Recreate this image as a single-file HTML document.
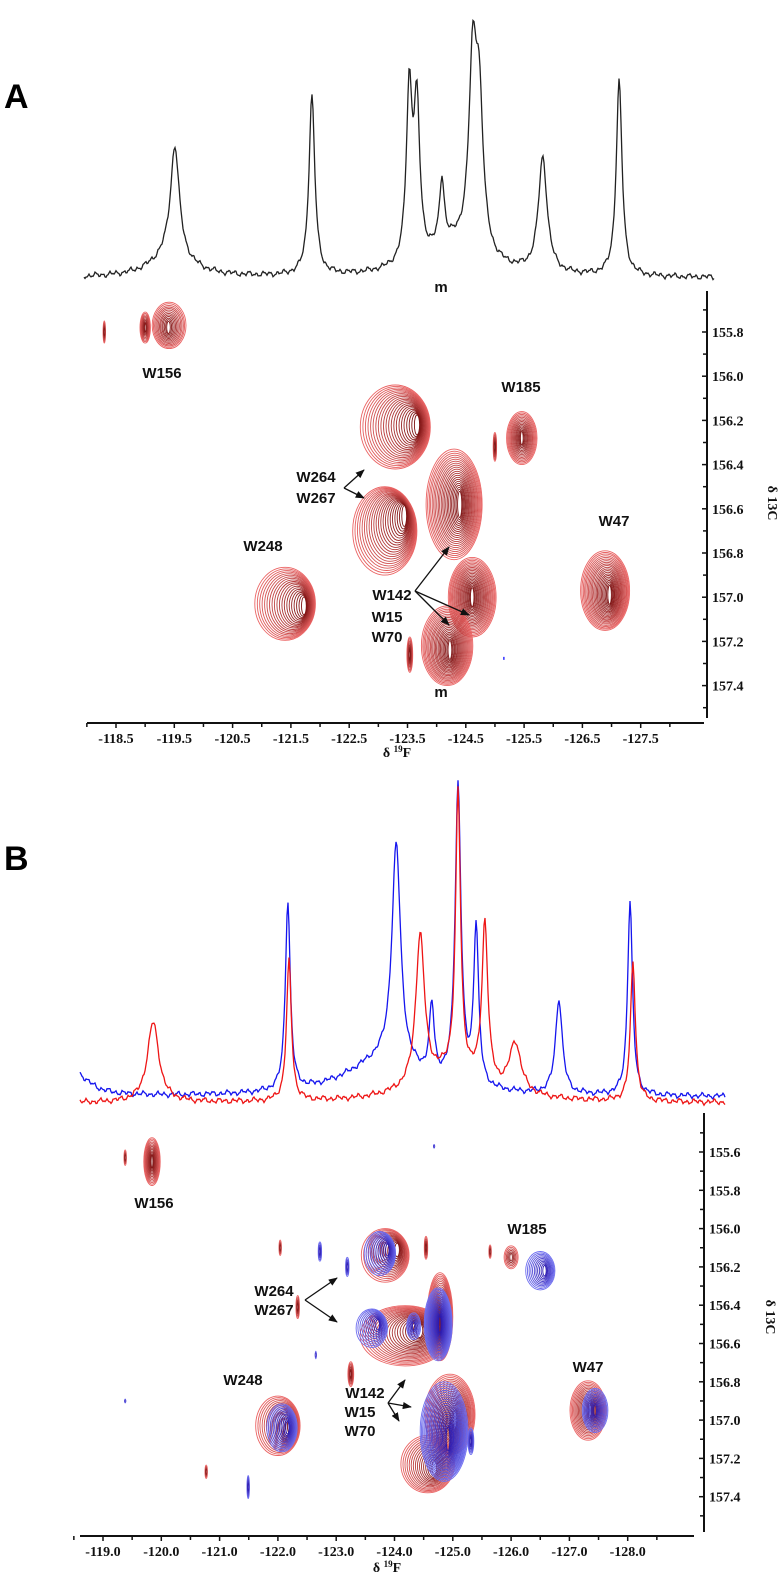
<!DOCTYPE html>
<html><head><meta charset="utf-8"><style>
html,body{margin:0;padding:0;background:#fff;}
svg{display:block;}
.tl{font-family:"Liberation Serif",serif;font-weight:bold;font-size:14px;fill:#111;}
.pl{font-family:"Liberation Sans",sans-serif;font-weight:bold;font-size:15px;fill:#111;}
</style></head><body>
<svg id="fig" width="781" height="1576" viewBox="0 0 781 1576" xmlns="http://www.w3.org/2000/svg">
<defs>
<marker id="ah" viewBox="0 0 10 10" refX="9" refY="5" markerWidth="7" markerHeight="7" orient="auto"><path d="M0,1 L10,5 L0,9 z" fill="#111"/></marker>
</defs>
<text x="4" y="108" font-family="Liberation Sans,sans-serif" font-weight="bold" font-size="34">A</text>
<text x="4" y="870" font-family="Liberation Sans,sans-serif" font-weight="bold" font-size="34">B</text>
<g id="gA"></g><g id="gB"></g>
</svg>
<script>
// ---------- Panel A data ----------
const specA_ppm = [-119.51,-121.86,-123.53,-123.66,-124.09,-124.62,-124.73,-125.82,-127.13,-119.45,-124.3];
const specA_h   = [110,180,170,150,65,180,140,115,195,22,30];
const specA_w   = [0.09,0.06,0.06,0.06,0.05,0.08,0.08,0.09,0.06,0.4,0.6];

const blobA_x  = [-119.41,-119.0,-118.3,-123.29,-123.11,-125.46,-125.0,-124.30,-124.61,-124.18,-123.54,-121.40,-126.89];
const blobA_y  = [155.77,155.78,155.8,156.23,156.70,156.28,156.32,156.58,157.0,157.22,157.26,157.03,156.97];
const blobA_rx = [0.29,0.09,0.02,0.6,0.55,0.26,0.03,0.48,0.41,0.44,0.05,0.52,0.42];
const blobA_ry = [0.105,0.07,0.05,0.19,0.2,0.12,0.065,0.25,0.18,0.18,0.08,0.165,0.18];
const blobA_cx = [-119.40,-119.0,-118.3,-123.68,-123.46,-125.46,-125.0,-124.40,-124.61,-124.23,-123.54,-121.74,-126.97];
const blobA_cy = [155.78,155.78,155.8,156.22,156.63,156.28,156.32,156.58,157.0,157.24,157.26,157.04,156.99];
const blobA_s  = ["r","r","r","r","r","r","r","r","r","r","r","r","r"];

const xTicksA = [-118.5,-119.5,-120.5,-121.5,-122.5,-123.5,-124.5,-125.5,-126.5,-127.5];
const yTicksA = [155.8,156.0,156.2,156.4,156.6,156.8,157.0,157.2,157.4];

// ---------- Panel B data ----------
const specB_blue_ppm = [-122.17,-124.03,-124.64,-125.09,-125.40,-126.82,-128.04,-123.8,-118.5];
const specB_blue_h   = [190,220,70,300,160,95,195,35,25];
const specB_blue_w   = [0.05,0.09,0.05,0.06,0.05,0.07,0.05,0.8,0.3];
const specB_red_ppm  = [-119.86,-122.19,-124.44,-125.09,-125.55,-126.07,-128.09,-125.0];
const specB_red_h    = [80,140,150,280,160,50,140,30];
const specB_red_w    = [0.12,0.05,0.09,0.05,0.06,0.12,0.05,0.7];

const blobB_x  = [-119.84,-119.38,-123.84,-122.04,-124.54,-125.64,-126.0,-124.18,-124.78,-123.25,-122.34,-124.57,-124.95,-122.0,-127.32,-120.77,
                  -123.75,-123.19,-122.72,-126.50,-124.75,-123.61,-124.33,-122.65,-124.85,-125.31,-122.07,-127.44,-121.49,-119.38,-124.68];
const blobB_y  = [155.65,155.63,156.14,156.10,156.10,156.12,156.15,156.56,156.46,156.76,156.41,157.23,156.97,157.03,156.95,157.27,
                  156.13,156.20,156.12,156.22,156.50,156.52,156.51,156.66,157.06,157.11,157.04,156.95,157.35,156.9,155.57];
const blobB_rx = [0.14,0.02,0.41,0.02,0.03,0.02,0.12,0.77,0.22,0.05,0.03,0.46,0.43,0.38,0.31,0.02,
                  0.27,0.03,0.03,0.25,0.24,0.27,0.12,0.01,0.41,0.05,0.26,0.22,0.02,0.01,0.01];
const blobB_ry = [0.125,0.04,0.14,0.04,0.06,0.035,0.06,0.157,0.23,0.065,0.06,0.15,0.21,0.155,0.155,0.035,
                  0.115,0.05,0.05,0.1,0.19,0.1,0.07,0.02,0.26,0.07,0.125,0.115,0.06,0.01,0.01];
const blobB_cx = [-119.84,-119.38,-124.06,-122.04,-124.54,-125.64,-126.0,-124.44,-124.83,-123.25,-122.34,-124.69,-125.04,-122.21,-127.35,-120.77,
                  -123.89,-123.19,-122.72,-126.58,-124.78,-123.72,-124.33,-122.65,-124.92,-125.31,-122.17,-127.44,-121.49,-119.38,-124.68];
const blobB_cy = [155.65,155.63,156.11,156.10,156.10,156.12,156.15,156.53,156.48,156.76,156.41,157.25,157.0,157.03,156.95,157.27,
                  156.11,156.20,156.12,156.22,156.50,156.50,156.51,156.66,157.1,157.11,157.04,156.95,157.35,156.9,155.57];
const blobB_s  = ["r","r","r","r","r","r","r","r","r","r","r","r","r","r","r","r",
                  "b","b","b","b","b","b","b","b","b","b","b","b","b","b","b"];

const xTicksB = [-119.0,-120.0,-121.0,-122.0,-123.0,-124.0,-125.0,-126.0,-127.0,-128.0];
const yTicksB = [155.6,155.8,156.0,156.2,156.4,156.6,156.8,157.0,157.2,157.4];

// ---------- axis functions ----------
const xA = v => 116 + (-118.5 - v) * 58.3;
const yA = v => 332 + (v - 155.8) * 221;
const pA = px => -118.5 - (px - 116) / 58.3;
const xB = v => 103 + (-119.0 - v) * 58.3;
const yB = v => 1152 + (v - 155.6) * 191.5;
const pB = px => -119.0 - (px - 103) / 58.3;

const NS = "http://www.w3.org/2000/svg";
function mk(tag, parent){ const e = document.createElementNS(NS, tag); parent.appendChild(e); return e; }

function spectrum(parent, ppm, h, w, base, x0, x1, pinv, color, name, ph){
  let d = "";
  for (let px = x0; px <= x1; px += 1){
    const v = pinv(px);
    let s = 0;
    for (let i = 0; i < ppm.length; i++){ const u = (v - ppm[i]) / w[i]; s += h[i] / (1 + u*u); }
    const wig = 1.6*Math.sin(px*0.9+ph) + 1.1*Math.sin(px*0.37+ph*2) + 0.8*Math.sin(px*2.1);
    const y = base - s + wig;
    d += (px === x0 ? "M" : "L") + px + "," + y.toFixed(1);
  }
  const p = mk("path", parent);
  p.setAttribute("d", d);
  p.setAttribute("fill", "none");
  p.setAttribute("stroke", color);
  p.setAttribute("stroke-width", "1.3");
  
  
}

function lerp(a,b,t){ return a + (b-a)*t; }
function blobs(parent, X, Y, RX, RY, CX, CY, S, fx, fy, pxPerX, pxPerY, name){
  for (let i = 0; i < X.length; i++){
    const g = mk("g", parent);
    
    
    const rxp = RX[i]*pxPerX, ryp = RY[i]*pxPerY;
    const n = Math.max(2, Math.min(22, Math.round(Math.max(rxp, ryp)/1.8)));
    for (let k = 0; k < n; k++){
      const t = k / n;
      const e = mk("ellipse", g);
      e.setAttribute("cx", lerp(fx(X[i]), fx(CX[i]), t).toFixed(1));
      e.setAttribute("cy", lerp(fy(Y[i]), fy(CY[i]), t).toFixed(1));
      e.setAttribute("rx", Math.max(0.6, rxp*(1 - t*0.97)).toFixed(1));
      e.setAttribute("ry", Math.max(0.8, ryp*(1 - t*0.8)).toFixed(1));
      let col;
      if (S[i] === "r"){ col = `rgb(${Math.round(lerp(235,120,t))},${Math.round(lerp(100,15,t))},${Math.round(lerp(100,15,t))})`; }
      else { col = `rgb(${Math.round(lerp(110,40,t))},${Math.round(lerp(110,20,t))},${Math.round(lerp(240,170,t))})`; }
      e.setAttribute("fill", "none");
      e.setAttribute("stroke", col);
      e.setAttribute("stroke-width", "0.9");
      
      
    }
  }
}

function line(parent, x1,y1,x2,y2, sw, name, arrow){
  const l = mk("line", parent);
  l.setAttribute("x1",x1); l.setAttribute("y1",y1); l.setAttribute("x2",x2); l.setAttribute("y2",y2);
  l.setAttribute("stroke","#111"); l.setAttribute("stroke-width", sw);
  if (arrow) l.setAttribute("marker-end","url(#ah)");
  
  
}
function text(parent, x, y, s, cls, name, anchor){
  const t = mk("text", parent);
  t.setAttribute("x", x); t.setAttribute("y", y);
  t.setAttribute("class", cls);
  if (anchor) t.setAttribute("text-anchor", anchor);
  t.textContent = s;
  
  
  return t;
}

function axes(parent, xT, yT, fx, fy, xAxisY, xAxisL, xAxisR, yAxisX, yAxisT, yAxisB, xStep, labY){
  line(parent, xAxisL, xAxisY, xAxisR, xAxisY, 2, 'x-axis-line');
  line(parent, yAxisX, yAxisT, yAxisX, yAxisB, 2, 'y-axis-line');
  for (const v of xT){
    line(parent, fx(v), xAxisY, fx(v), xAxisY+5, 1.5, 'x-tick');
    line(parent, fx(v-xStep/2), xAxisY, fx(v-xStep/2), xAxisY+4, 1.5, 'x-minor-tick');
    text(parent, fx(v), labY, v.toFixed(1), "tl", 'x-tick-label', "middle");
  }
  line(parent, fx(xT[0]+xStep/2), xAxisY, fx(xT[0]+xStep/2), xAxisY+4, 1.5, 'x-minor-tick');
  for (const v of yT){
    line(parent, yAxisX-5, fy(v), yAxisX, fy(v), 1.5, 'y-tick');
    line(parent, yAxisX-4, fy(v+0.1), yAxisX, fy(v+0.1), 1.5, 'y-minor-tick');
    text(parent, yAxisX+5, fy(v)+5, v.toFixed(1), "tl", 'y-tick-label');
  }
  line(parent, yAxisX-4, fy(yT[0]-0.1), yAxisX, fy(yT[0]-0.1), 1.5, 'y-minor-tick');
}

// ---------- Panel A ----------
const gA = document.getElementById("gA");
spectrum(gA, specA_ppm, specA_h, specA_w, 278, 84, 714, pA, "#222", "spectrum-a-1d", 0.3);
blobs(gA, blobA_x, blobA_y, blobA_rx, blobA_ry, blobA_cx, blobA_cy, blobA_s, xA, yA, 58.3, 221, "contour-a");
const bd = mk("rect", gA); bd.setAttribute("x", xA(-125.14)); bd.setAttribute("y", yA(157.27)); bd.setAttribute("width",1.5); bd.setAttribute("height",3); bd.setAttribute("fill","#33f");
 
axes(gA, xTicksA, yTicksA, xA, yA, 723, 87, 704, 707, 291, 718, 1.0, 743);
const xtA = text(gA, 397, 757, "δ ", "tl", 'x-axis-title-a', "middle");
const supA = mk("tspan", xtA); supA.setAttribute("font-size","9"); supA.setAttribute("dy","-5"); supA.textContent="19";
const fA = mk("tspan", xtA); fA.setAttribute("dy","5"); fA.textContent="F";
const ytA = text(gA, 0, 0, "δ 13C", "tl", 'y-axis-title-a', "middle"); ytA.setAttribute("transform","translate(768,503) rotate(90)"); ytA.setAttribute("font-size","12");
text(gA, 162, 378, "W156", "pl", 'label-w156', "middle");
text(gA, 521, 392, "W185", "pl", 'label-w185', "middle");
text(gA, 316, 482, "W264", "pl", 'label-w264', "middle");
text(gA, 316, 503, "W267", "pl", 'label-w267', "middle");
text(gA, 263, 551, "W248", "pl", 'label-w248', "middle");
text(gA, 614, 526, "W47", "pl", 'label-w47', "middle");
text(gA, 392, 600, "W142", "pl", 'label-w142', "middle");
text(gA, 387, 622, "W15", "pl", 'label-w15', "middle");
text(gA, 387, 642, "W70", "pl", 'label-w70', "middle");
text(gA, 441, 697, "m", "pl", 'label-m-2d', "middle");
text(gA, 441, 292, "m", "pl", 'label-m-1d', "middle");
line(gA, 344,488, 364,470, 1.3, 'arrow-w264', true);
line(gA, 344,488, 364,498, 1.3, 'arrow-w267', true);
line(gA, 415,591, 449,547, 1.3, 'arrow-w142', true);
line(gA, 415,591, 469,615, 1.3, 'arrow-w15', true);
line(gA, 415,591, 449,625, 1.3, 'arrow-w70', true);

// ---------- Panel B ----------
const gB = document.getElementById("gB");
spectrum(gB, specB_blue_ppm, specB_blue_h, specB_blue_w, 1097, 80, 725, pB, "#1515ee", "spectrum-b-blue", 1.1);
spectrum(gB, specB_red_ppm, specB_red_h, specB_red_w, 1103, 80, 725, pB, "#ee1515", "spectrum-b-red", 2.4);
blobs(gB, blobB_x, blobB_y, blobB_rx, blobB_ry, blobB_cx, blobB_cy, blobB_s, xB, yB, 58.3, 191.5, "contour-b");
axes(gB, xTicksB, yTicksB, xB, yB, 1536, 80, 694, 704, 1113, 1532, 1.0, 1556);
const xtB = text(gB, 387, 1572, "δ ", "tl", 'x-axis-title-b', "middle");
const supB = mk("tspan", xtB); supB.setAttribute("font-size","9"); supB.setAttribute("dy","-5"); supB.textContent="19";
const fB = mk("tspan", xtB); fB.setAttribute("dy","5"); fB.textContent="F";
const ytB = text(gB, 0, 0, "δ 13C", "tl", 'y-axis-title-b', "middle"); ytB.setAttribute("transform","translate(766,1317) rotate(90)"); ytB.setAttribute("font-size","12");
text(gB, 154, 1208, "W156", "pl", 'label-w156-b', "middle");
text(gB, 527, 1234, "W185", "pl", 'label-w185-b', "middle");
text(gB, 274, 1296, "W264", "pl", 'label-w264-b', "middle");
text(gB, 274, 1315, "W267", "pl", 'label-w267-b', "middle");
text(gB, 243, 1385, "W248", "pl", 'label-w248-b', "middle");
text(gB, 588, 1372, "W47", "pl", 'label-w47-b', "middle");
text(gB, 365, 1398, "W142", "pl", 'label-w142-b', "middle");
text(gB, 360, 1417, "W15", "pl", 'label-w15-b', "middle");
text(gB, 360, 1436, "W70", "pl", 'label-w70-b', "middle");
line(gB, 305,1300, 337,1278, 1.3, 'arrow-w264-b', true);
line(gB, 305,1300, 337,1322, 1.3, 'arrow-w267-b', true);
line(gB, 388,1403, 405,1380, 1.3, 'arrow-w142-b', true);
line(gB, 388,1403, 411,1407, 1.3, 'arrow-w15-b', true);
line(gB, 388,1403, 399,1421, 1.3, 'arrow-w70-b', true);
</script>
</body></html>
